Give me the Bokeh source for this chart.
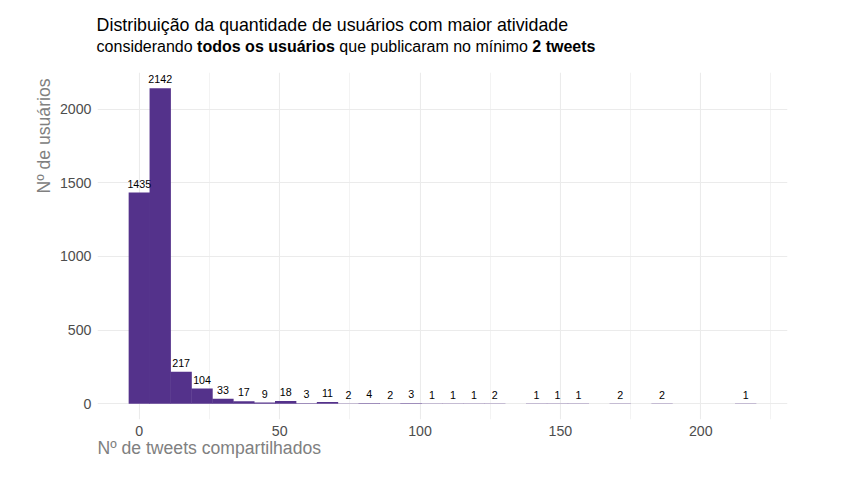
import math
from bokeh.plotting import figure
from bokeh.layouts import column
from bokeh.models import ColumnDataSource, Range1d, FixedTicker, Title, Div
from bokeh.embed import file_html
from bokeh.resources import INLINE
from bokeh.core.properties import value

# ---------------- data ----------------
counts = [1435, 2142, 217, 104, 33, 17, 9, 18, 3, 11, 2, 4, 2, 3, 1,
          1, 1, 2, 0, 1, 1, 1, 0, 2, 0, 2, 0, 0, 0, 1]
x_min_value = 2      # smallest number of shared tweets
x_max_value = 218    # largest number of shared tweets
n_bins = 30
x_ticks = [0, 50, 100, 150, 200]
x_minor_ticks = [25, 75, 125, 175, 225]
y_ticks = [0, 500, 1000, 1500, 2000]

title_text = "Distribuição da quantidade de usuários com maior atividade"
subtitle_parts = ["considerando ", "todos os usuários", " que publicaram no mínimo ", "2 tweets"]
subtitle_bold = [False, True, False, True]
x_title = "Nº de tweets compartilhados"
y_title = "Nº de usuários"

# ---------------- bins (ggplot2 style: bins=30) ----------------
bin_width = (x_max_value - x_min_value) / (n_bins - 1)
boundary = bin_width / 2
origin = boundary + math.floor((x_min_value - boundary) / bin_width) * bin_width
centers = [origin + bin_width / 2 + i * bin_width for i in range(n_bins)]

bar_x = [c for c, n in zip(centers, counts) if n > 0]
bar_n = [n for n in counts if n > 0]
bar_t = [str(n) for n in bar_n]
src = ColumnDataSource(dict(x=bar_x, count=bar_n, t=bar_t))

lo = centers[0] - bin_width / 2
hi = centers[-1] + bin_width / 2
xpad = 0.05 * (hi - lo)
ymax = max(counts)
ypad = 0.05 * ymax

FONT = "Liberation Sans"
PURPLE = "#54328B"
GRID = "#EBEBEB"
HEAD_H = 62

p = figure(width=864, height=480 - HEAD_H, output_backend="svg", toolbar_location=None,
           title=None,
           x_range=Range1d(lo - xpad, hi + xpad), y_range=Range1d(-ypad, ymax + ypad),
           min_border_left=97, min_border_right=77, min_border_top=72 - HEAD_H,
           min_border_bottom=61)
p.margin = 0
p.outline_line_color = None
p.background_fill_color = "white"
p.border_fill_color = "white"

# a hair of overlap hides anti-aliasing seams between adjacent bars
p.vbar(x="x", top="count", bottom=0, width=bin_width * 1.02, source=src,
       fill_color=PURPLE, line_color=None)

p.text(x="x", y="count", text="t", source=src, text_font=value(FONT),
       text_font_size="10.7px", text_align="center", text_baseline="alphabetic",
       y_offset=-8.8, text_color="black")

xt = FixedTicker(ticks=x_ticks, minor_ticks=x_minor_ticks)
yt = FixedTicker(ticks=y_ticks, minor_ticks=[])
p.xaxis.ticker = xt
p.yaxis.ticker = yt
p.xgrid.ticker = xt
p.ygrid.ticker = yt

for ax in (p.xaxis, p.yaxis):
    ax.axis_line_color = None
    ax.major_tick_line_color = None
    ax.minor_tick_line_color = None
    ax.major_tick_out = 0
    ax.major_tick_in = 0
    ax.minor_tick_out = 0
    ax.major_label_text_font = FONT
    ax.major_label_text_font_size = "14.2px"
    ax.major_label_text_color = "#4D4D4D"
    ax.major_label_standoff = 6

p.xgrid.grid_line_color = GRID
p.xgrid.grid_line_width = 1.1
p.xgrid.minor_grid_line_color = GRID
p.xgrid.minor_grid_line_width = 0.6
p.ygrid.grid_line_color = GRID
p.ygrid.grid_line_width = 1.1
p.ygrid.minor_grid_line_color = None

# ---------------- axis titles ----------------
p.add_layout(Title(text=x_title, align="left", text_font=FONT, text_font_size="17.6px",
                   text_font_style="normal", text_color="#808080", standoff=-6), "below")
p.add_layout(Title(text=y_title, align="right", text_font=FONT, text_font_size="17.6px",
                   text_font_style="normal", text_color="#808080", standoff=6,
                   offset=6), "left")

# ---------------- title + subtitle ----------------
sub_html = "".join(
    ('<b>%s</b>' % s) if b else s for s, b in zip(subtitle_parts, subtitle_bold)
).replace(" ", "&nbsp;")
head_html = (
    '<div style="position:relative;width:864px;height:%dpx;font-family:\'%s\';color:#000;">'
    '<div style="position:absolute;left:96.6px;top:16.9px;font-size:17.8px;line-height:1;white-space:nowrap;">%s</div>'
    '<div style="position:absolute;left:96.6px;top:39.2px;font-size:16px;line-height:1;white-space:nowrap;">%s</div>'
    '</div>' % (HEAD_H, FONT, title_text, sub_html)
)
head = Div(text=head_html, width=864, height=HEAD_H, margin=0)

layout = column(head, p, spacing=0, margin=0)
open("out.html", "w").write(file_html(layout, INLINE))
